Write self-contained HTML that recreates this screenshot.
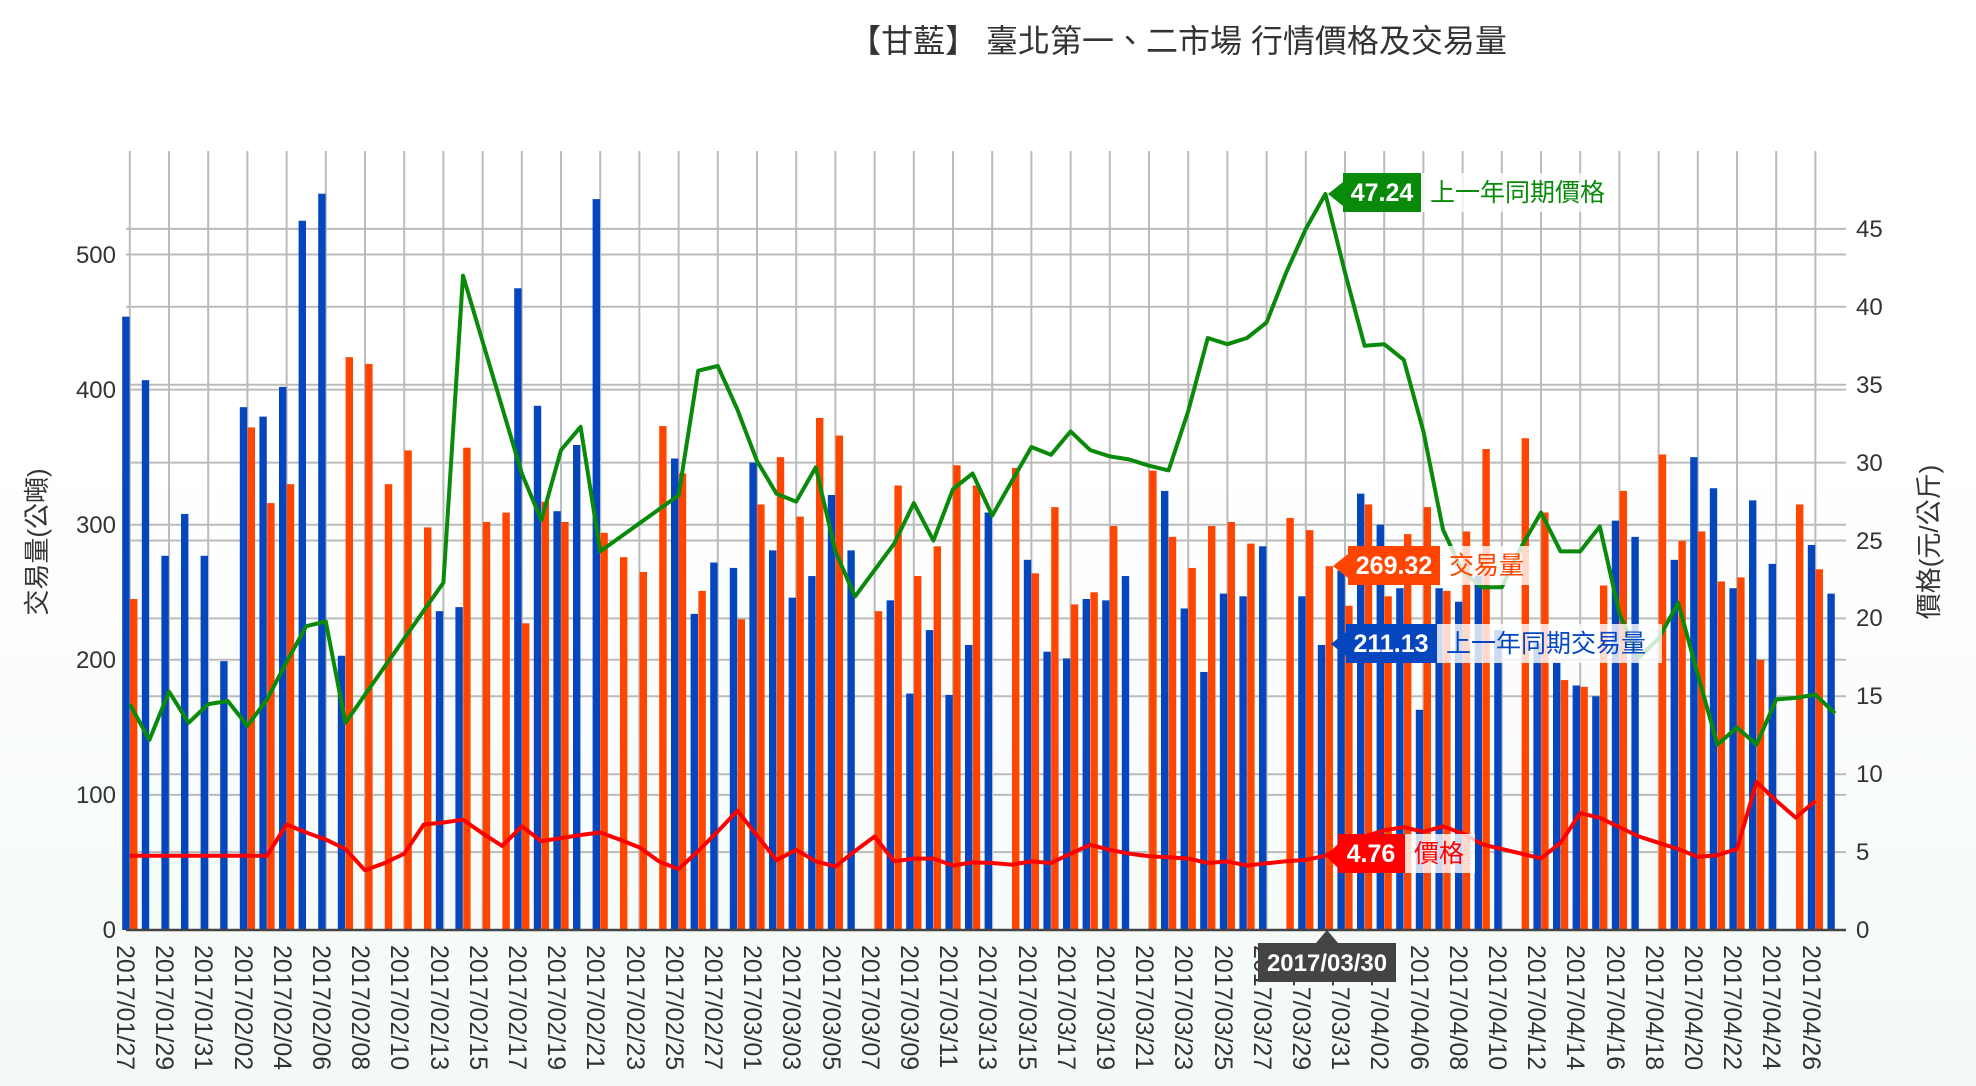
<!DOCTYPE html>
<html><head><meta charset="utf-8">
<style>
html,body{margin:0;padding:0;}
body{width:1976px;height:1086px;overflow:hidden;background:linear-gradient(#ffffff 0%,#ffffff 40%,#f3faf6 100%);font-family:"Liberation Sans","Noto Sans CJK TC",sans-serif;}
svg{position:absolute;left:0;top:0;}
</style></head><body>
<svg id="c" width="1976" height="1086" xmlns="http://www.w3.org/2000/svg" font-family="Liberation Sans, Noto Sans CJK TC, sans-serif">
<g id="grid" stroke="#bbbbbb" stroke-width="2"></g>
<g id="bars"></g>
<g id="lines" fill="none" stroke-width="4" stroke-linejoin="round"></g>
<line x1="126" y1="930" x2="1846" y2="930" stroke="#444" stroke-width="2.5"/>
<text x="1178" y="52" font-size="32" fill="#333" text-anchor="middle" font-family="Liberation Sans, Noto Sans CJK TC, sans-serif">【甘藍】 臺北第一、二市場 行情價格及交易量</text>
<g font-size="24" fill="#333" text-anchor="end">
<text x="116" y="938">0</text>
<text x="116" y="803">100</text>
<text x="116" y="668">200</text>
<text x="116" y="533">300</text>
<text x="116" y="398">400</text>
<text x="116" y="263">500</text>
</g>
<g font-size="24" fill="#333">
<text x="1856" y="938">0</text>
<text x="1856" y="860">5</text>
<text x="1856" y="782">10</text>
<text x="1856" y="704">15</text>
<text x="1856" y="626">20</text>
<text x="1856" y="549">25</text>
<text x="1856" y="471">30</text>
<text x="1856" y="393">35</text>
<text x="1856" y="315">40</text>
<text x="1856" y="237">45</text>
</g>
<text transform="translate(46,542) rotate(-90)" font-size="26" fill="#333" text-anchor="middle">交易量(公噸)</text>
<text transform="translate(1938,542) rotate(-90)" font-size="26" fill="#333" text-anchor="middle">價格(元/公斤)</text>
<g font-size="25" fill="#333">
<text transform="translate(117,945) rotate(90)">2017/01/27</text>
<text transform="translate(156,945) rotate(90)">2017/01/29</text>
<text transform="translate(195,945) rotate(90)">2017/01/31</text>
<text transform="translate(235,945) rotate(90)">2017/02/02</text>
<text transform="translate(274,945) rotate(90)">2017/02/04</text>
<text transform="translate(313,945) rotate(90)">2017/02/06</text>
<text transform="translate(352,945) rotate(90)">2017/02/08</text>
<text transform="translate(391,945) rotate(90)">2017/02/10</text>
<text transform="translate(431,945) rotate(90)">2017/02/13</text>
<text transform="translate(470,945) rotate(90)">2017/02/15</text>
<text transform="translate(509,945) rotate(90)">2017/02/17</text>
<text transform="translate(548,945) rotate(90)">2017/02/19</text>
<text transform="translate(587,945) rotate(90)">2017/02/21</text>
<text transform="translate(627,945) rotate(90)">2017/02/23</text>
<text transform="translate(666,945) rotate(90)">2017/02/25</text>
<text transform="translate(705,945) rotate(90)">2017/02/27</text>
<text transform="translate(744,945) rotate(90)">2017/03/01</text>
<text transform="translate(783,945) rotate(90)">2017/03/03</text>
<text transform="translate(823,945) rotate(90)">2017/03/05</text>
<text transform="translate(862,945) rotate(90)">2017/03/07</text>
<text transform="translate(901,945) rotate(90)">2017/03/09</text>
<text transform="translate(940,945) rotate(90)">2017/03/11</text>
<text transform="translate(979,945) rotate(90)">2017/03/13</text>
<text transform="translate(1019,945) rotate(90)">2017/03/15</text>
<text transform="translate(1058,945) rotate(90)">2017/03/17</text>
<text transform="translate(1097,945) rotate(90)">2017/03/19</text>
<text transform="translate(1136,945) rotate(90)">2017/03/21</text>
<text transform="translate(1175,945) rotate(90)">2017/03/23</text>
<text transform="translate(1215,945) rotate(90)">2017/03/25</text>
<text transform="translate(1254,945) rotate(90)">2017/03/27</text>
<text transform="translate(1293,945) rotate(90)">2017/03/29</text>
<text transform="translate(1332,945) rotate(90)">2017/03/31</text>
<text transform="translate(1371,945) rotate(90)">2017/04/02</text>
<text transform="translate(1411,945) rotate(90)">2017/04/06</text>
<text transform="translate(1450,945) rotate(90)">2017/04/08</text>
<text transform="translate(1489,945) rotate(90)">2017/04/10</text>
<text transform="translate(1528,945) rotate(90)">2017/04/12</text>
<text transform="translate(1567,945) rotate(90)">2017/04/14</text>
<text transform="translate(1607,945) rotate(90)">2017/04/16</text>
<text transform="translate(1646,945) rotate(90)">2017/04/18</text>
<text transform="translate(1685,945) rotate(90)">2017/04/20</text>
<text transform="translate(1724,945) rotate(90)">2017/04/22</text>
<text transform="translate(1763,945) rotate(90)">2017/04/24</text>
<text transform="translate(1803,945) rotate(90)">2017/04/26</text>
</g>
<g>
<rect x="1421" y="173" width="196" height="39" fill="rgba(255,255,255,0.8)"/>
<polygon points="1328,194 1343,182 1343,206" fill="#0a8a0a"/>
<rect x="1343" y="173" width="78" height="39" fill="#0a8a0a"/>
<text x="1382" y="201" font-size="25" font-weight="bold" fill="#fff" text-anchor="middle">47.24</text>
<text x="1430" y="201" font-size="25" fill="#0a8a0a">上一年同期價格</text>

<rect x="1440" y="546" width="92" height="39" fill="rgba(255,255,255,0.8)"/>
<polygon points="1333,566 1348,554 1348,578" fill="#ff4500"/>
<rect x="1348" y="546" width="92" height="39" fill="#ff4500"/>
<text x="1394" y="574" font-size="25" font-weight="bold" fill="#fff" text-anchor="middle">269.32</text>
<text x="1449" y="574" font-size="25" fill="#ff4500">交易量</text>

<rect x="1437" y="624" width="225" height="39" fill="rgba(255,255,255,0.8)"/>
<polygon points="1331,644 1346,632 1346,656" fill="#0546be"/>
<rect x="1346" y="624" width="91" height="39" fill="#0546be"/>
<text x="1391" y="652" font-size="25" font-weight="bold" fill="#fff" text-anchor="middle">211.13</text>
<text x="1446" y="652" font-size="25" fill="#0546be">上一年同期交易量</text>

<rect x="1405" y="834" width="70" height="39" fill="rgba(255,255,255,0.8)"/>
<polygon points="1326,856 1338,844 1338,868" fill="#ff0000"/>
<rect x="1338" y="834" width="67" height="39" fill="#ff0000"/>
<text x="1371" y="862" font-size="25" font-weight="bold" fill="#fff" text-anchor="middle">4.76</text>
<text x="1414" y="862" font-size="25" fill="#ff0000">價格</text>

<polygon points="1327,930 1316,943 1338,943" fill="#444"/>
<rect x="1258" y="943" width="138" height="39" fill="#444"/>
<text x="1327" y="971" font-size="24" font-weight="bold" fill="#fff" text-anchor="middle">2017/03/30</text>
</g>
</svg>
<script>
(function(){
var N=null;
var B=[454,407,277,308,277,199,387,380,402,525,545,203,N,N,N,N,236,239,N,N,475,388,310,359,541,N,N,N,349,234,272,268,346,281,246,262,322,281,N,244,175,222,174,211,309,N,274,206,201,245,244,262,N,325,238,191,249,247,284,N,247,211,266,323,300,253,163,253,243,262,222,N,212,198,181,173,303,291,N,274,350,327,253,318,271,N,285,249];
var O=[245,N,N,N,N,N,372,316,330,N,N,424,419,330,355,298,N,357,302,309,227,317,302,N,294,276,265,373,338,251,N,230,315,350,306,379,366,N,236,329,262,284,344,329,N,342,264,313,241,250,299,N,340,291,268,299,302,286,N,305,296,269.32,240,315,247,293,313,251,295,356,N,364,309,185,180,255,325,N,352,288,295,258,261,200,N,315,267,N];
var R=[4.77,4.77,4.77,4.77,4.77,4.77,4.77,4.77,6.77,6.26,5.8,5.2,3.83,4.3,4.9,6.77,6.9,7.08,6.2,5.4,6.65,5.7,5.9,6.1,6.26,5.8,5.3,4.4,3.9,5.07,6.33,7.66,6.07,4.48,5.14,4.41,4.08,5.07,6.0,4.41,4.58,4.58,4.14,4.34,4.3,4.2,4.4,4.3,4.9,5.47,5.14,4.9,4.74,4.67,4.58,4.3,4.4,4.14,4.28,4.41,4.5,4.76,5.5,6.0,6.4,6.6,6.3,6.65,6.2,5.5,5.2,4.9,4.6,5.6,7.5,7.2,6.6,6.0,5.6,5.2,4.7,4.8,5.2,9.5,8.3,7.2,8.3,N];
var G=[14.5,12.2,15.3,13.3,14.5,14.7,13.1,14.8,17.2,19.5,19.8,13.3,N,N,N,N,22.3,42.0,N,N,29.3,26.3,30.8,32.3,24.3,N,N,N,27.9,35.9,36.2,33.4,30.1,28.0,27.5,29.7,24.3,21.4,N,24.8,27.4,25.0,28.3,29.3,26.6,28.8,31.0,30.5,32.0,30.8,30.4,30.2,29.8,29.5,33.3,38.0,37.6,38.0,39.0,42.2,45.0,47.24,42.2,37.5,37.6,36.6,32,25.7,23,22,22,24.6,26.8,24.3,24.3,25.9,20.3,17.5,18.7,21,16.4,11.9,13,11.9,14.8,14.9,15.1,13.9];
var NS="http://www.w3.org/2000/svg";
function cx(i){return 129.8+19.6*i;}
function yV(v){return 930-v*1.351;}
function yP(p){return 930-p*15.58;}
function el(t,a,p){var e=document.createElementNS(NS,t);for(var k in a)e.setAttribute(k,a[k]);p.appendChild(e);return e;}
var grid=document.getElementById('grid');
for(var v=100;v<=500;v+=100)el('line',{x1:126,x2:1846,y1:yV(v),y2:yV(v)},grid);
for(var p=5;p<=45;p+=5)el('line',{x1:126,x2:1846,y1:yP(p),y2:yP(p)},grid);
for(var i=0;i<88;i+=2)el('line',{x1:cx(i),x2:cx(i),y1:151,y2:930},grid);
var bars=document.getElementById('bars');
for(var i=0;i<88;i++){
 if(B[i]!=null)el('rect',{x:cx(i)-7.6,y:yV(B[i]),width:7.4,height:930-yV(B[i]),fill:'#0546be'},bars);
 if(O[i]!=null)el('rect',{x:cx(i)+0.2,y:yV(O[i]),width:7.4,height:930-yV(O[i]),fill:'#ff4500'},bars);
}
var lines=document.getElementById('lines');
function path(arr,col){var d='';for(var i=0;i<arr.length;i++){if(arr[i]==null)continue;d+=(d?'L':'M')+cx(i).toFixed(1)+','+yP(arr[i]).toFixed(1);}el('path',{d:d,stroke:col},lines);}
path(R,'#ff0000');path(G,'#0a8a0a');
})();
</script>
</body></html>
